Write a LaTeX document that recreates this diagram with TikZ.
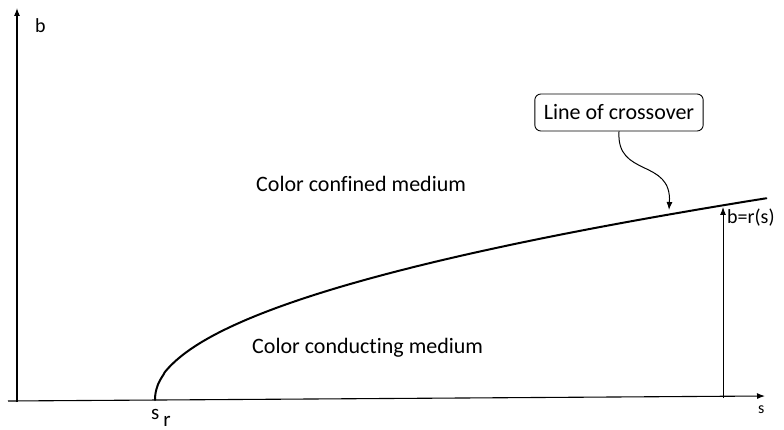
\documentclass[tikz,border=0pt]{standalone}
\usepackage{fontspec}
\setmainfont{Carlito}[Ligatures=NoCommon]
\usetikzlibrary{arrows.meta,positioning,calc}
\definecolor{ink}{HTML}{000000}

\begin{document}
\begin{tikzpicture}[x=1pt,y=-1pt,
  axis/.style={draw=ink,line width=1.1pt,-{Latex[length=8pt,width=6pt]}},
  crossline/.style={draw=ink,line width=2pt,line cap=round},
  callout/.style={draw=ink,rounded corners=6pt,line width=0.9pt,inner xsep=9pt,inner ysep=0pt,minimum height=37pt,font=\fontsize{22}{26}\selectfont},
  txt/.style={font=\fontsize{22}{26}\selectfont,inner sep=0pt,anchor=base west},
  pointer/.style={draw=ink,line width=1pt,-{Latex[length=8pt,width=6pt]}}]
  \useasboundingbox (0,0) rectangle (784,430);
  % axes
  \coordinate (orig) at (17,402);
  \coordinate (btop) at (17,8);
  \coordinate (sleft) at (8,401);
  \coordinate (send) at (765,396);
  \draw[axis] (orig) -- (btop);
  \draw[axis] (sleft) -- (send);
  \node[txt,font=\fontsize{20}{23}\selectfont] (blab) at (35,33) {b};
  \node[txt,font=\fontsize{16}{19}\selectfont] (slab) at (758,413) {s};
  \node[txt,font=\fontsize{21}{24}\selectfont] (srlab) at (151,419) {s\kern4pt\raisebox{-7pt}{r}};
  % line of crossover b = r(s)
  \draw[crossline] plot[domain=0:1,samples=120,smooth]
    ({155+613*\x*\x},{400-202*pow(\x,0.97)}) coordinate (cend);
  \node[txt] (conf) at (256,192) {Color confined medium};
  \node[txt] (cond) at (252,353) {Color conducting medium};
  % height marker
  \coordinate (hfoot) at (723,398);
  \coordinate (htop) at (723,207);
  \draw[pointer] (hfoot) -- (htop);
  \node[txt,font=\fontsize{20}{24}\selectfont] (rlab) at (727,224) {b=r(s)};
  % callout
  \node[callout] (cross) at (619,112.5) {Line of crossover};
  \coordinate (ctip) at (669,210);
  \draw[pointer] (cross.south) .. controls (616,178) and (672,158) .. (ctip);
\end{tikzpicture}
\end{document}
